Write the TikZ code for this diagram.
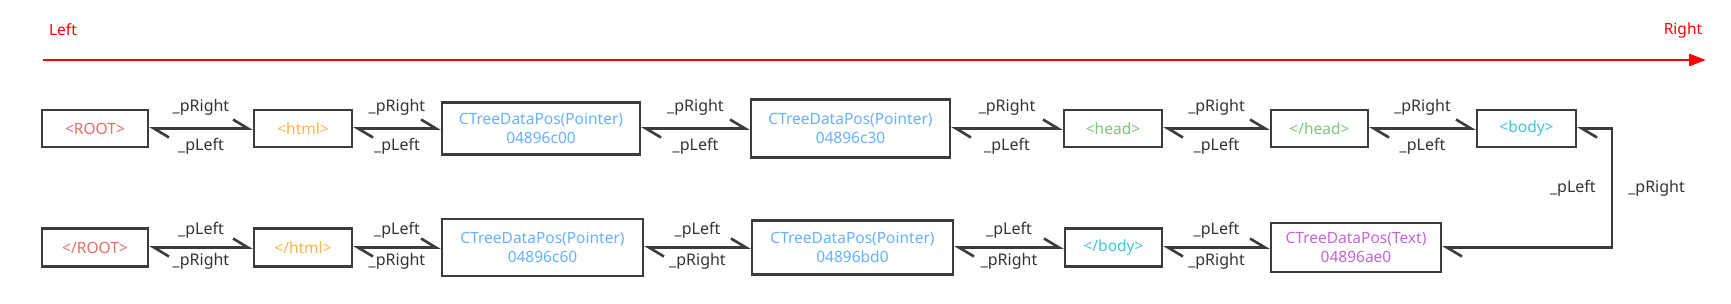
\documentclass[tikz,border=0pt]{standalone}
\usepackage{fontspec}
\setmainfont{Noto Sans}
\usetikzlibrary{arrows.meta}
\definecolor{edgegray}{HTML}{3C3C3C}
\definecolor{labgray}{HTML}{333333}
\definecolor{cRoot}{HTML}{EA6B66}
\definecolor{cHtml}{HTML}{FFB347}
\definecolor{cPtr}{HTML}{66B2FF}
\definecolor{cHead}{HTML}{7CC67C}
\definecolor{cBody}{HTML}{3FC6DE}
\definecolor{cText}{HTML}{C465D8}
\definecolor{axisred}{HTML}{FF0000}
\tikzset{
  box/.style={draw=edgegray, line width=2.6pt, fill=white, inner sep=0pt, align=center,
    font=\fontsize{15.5}{19.5}\selectfont},
  link/.style={draw=edgegray, line width=2.6pt,
    {Straight Barb[left,length=15pt,width=18pt]}-{Straight Barb[left,length=15pt,width=18pt]}},
  lab/.style={text=labgray, inner sep=0pt, font=\fontsize{16}{18}\selectfont},
  axislab/.style={text=axisred, inner sep=0pt, font=\fontsize{15.5}{18}\selectfont},
}
\begin{document}
\begin{tikzpicture}[x=1pt,y=-1pt]
\useasboundingbox (0,0) rectangle (1731,303);
% axis
\node[axislab] (lefttxt) at (63,30) {Left};
\node[axislab] (righttxt) at (1683,30) {Right};
\coordinate (axA) at (43,60);
\coordinate (axB) at (1706,60);
\draw[axisred, line width=2.6pt, -{Triangle[length=17pt,width=12pt]}] (axA) -- (axB);
% top row
\node[box, minimum width=106pt, minimum height=37pt, text=cRoot] (root) at (95,128.5) {<ROOT>};
\node[box, minimum width=98pt, minimum height=37pt, text=cHtml] (html) at (303,128.5) {<html>};
\node[box, minimum width=198pt, minimum height=52pt, text=cPtr] (c00) at (541,128.5) {CTreeDataPos(Pointer)\\04896c00};
\node[box, minimum width=199pt, minimum height=58pt, text=cPtr] (c30) at (850.5,128.5) {CTreeDataPos(Pointer)\\04896c30};
\node[box, minimum width=98pt, minimum height=37pt, text=cHead] (head) at (1113,128.5) {<head>};
\node[box, minimum width=97pt, minimum height=37pt, text=cHead] (ehead) at (1319.5,128.5) {</head>};
\node[box, minimum width=99pt, minimum height=37pt, text=cBody] (body) at (1526.5,128.5) {<body>};
% bottom row
\node[box, minimum width=106pt, minimum height=38pt, text=cRoot] (eroot) at (95,247.5) {</ROOT>};
\node[box, minimum width=98pt, minimum height=38pt, text=cHtml] (ehtml) at (303,247.5) {</html>};
\node[box, minimum width=201pt, minimum height=57pt, text=cPtr] (c60) at (542.5,247.5) {CTreeDataPos(Pointer)\\04896c60};
\node[box, minimum width=201pt, minimum height=54pt, text=cPtr] (bd0) at (852.5,247.5) {CTreeDataPos(Pointer)\\04896bd0};
\node[box, minimum width=97pt, minimum height=38pt, text=cBody] (ebody) at (1113.5,247.5) {</body>};
\node[box, minimum width=170pt, minimum height=49pt, text=cText] (txt) at (1356,247.5) {CTreeDataPos(Text)\\04896ae0};
% top links
\foreach \a/\b in {root/html, html/c00, c00/c30, c30/head, head/ehead, ehead/body}{
  \draw[link] (\a.east) -- (\b.west)
    node[lab, midway, anchor=base, yshift=17pt] {\_pRight}
    node[lab, midway, anchor=base, yshift=-21.5pt] {\_pLeft};
}
% bottom links
\foreach \a/\b in {eroot/ehtml, ehtml/c60, c60/bd0, bd0/ebody, ebody/txt}{
  \draw[link] (\a.east) -- (\b.west)
    node[lab, midway, anchor=base, yshift=13pt] {\_pLeft}
    node[lab, midway, anchor=base, yshift=-17.5pt] {\_pRight};
}
% loop
\coordinate (turn) at (1612,128.5);
\draw[link] (body.east) -- (turn) |- (txt.east)
  node[lab, pos=0.25, anchor=east, xshift=-15pt] {\_pLeft}
  node[lab, pos=0.25, anchor=west, xshift=15pt] {\_pRight};
\end{tikzpicture}
\end{document}
